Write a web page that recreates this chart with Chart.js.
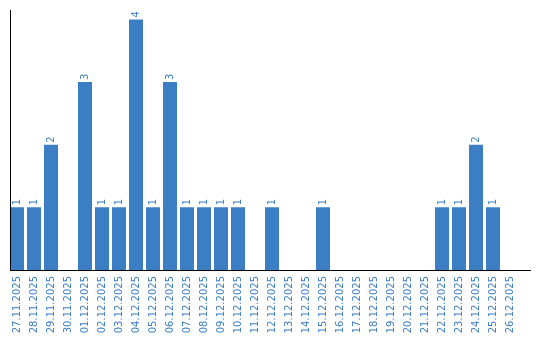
<!DOCTYPE html>
<html>
<head>
<meta charset="utf-8">
<script src="https://cdn.jsdelivr.net/npm/chart.js@4"></script>
<style>
    html, body { margin: 0; padding: 0; background: #fff; }
    #wrap { width: 540px; height: 340px; }
</style>
</head>
<body>
<div id="wrap"><canvas id="dayChart"></canvas></div>
<script>
// Count per day

const dayLabels = [
    '27.11.2025', '28.11.2025', '29.11.2025', '30.11.2025', '01.12.2025',
    '02.12.2025', '03.12.2025', '04.12.2025', '05.12.2025', '06.12.2025',
    '07.12.2025', '08.12.2025', '09.12.2025', '10.12.2025', '11.12.2025',
    '12.12.2025', '13.12.2025', '14.12.2025', '15.12.2025', '16.12.2025',
    '17.12.2025', '18.12.2025', '19.12.2025', '20.12.2025', '21.12.2025',
    '22.12.2025', '23.12.2025', '24.12.2025', '25.12.2025', '26.12.2025'
];
const dayCounts = [
    1, 1, 2, 0, 3,
    1, 1, 4, 1, 3,
    1, 1, 1, 1, 0,
    1, 0, 0, 1, 0,
    0, 0, 0, 0, 0,
    1, 1, 2, 1, 0
];

const barColor = '#3b7ec3';
const labelFont = '10px "DejaVu Sans", Verdana, sans-serif';

// value above each bar, rotated like the ticks
const barValues = {
    id: 'barValues',
    afterDatasetsDraw(chart) {
        const ctx = chart.ctx;
        const meta = chart.getDatasetMeta(0);
        ctx.save();
        ctx.font = labelFont;
        ctx.fillStyle = barColor;
        ctx.textAlign = 'left';
        ctx.textBaseline = 'middle';
        meta.data.forEach((bar, i) => {
            const v = dayCounts[i];
            if (!v) return;
            ctx.save();
            ctx.translate(bar.x, bar.y - 2);
            ctx.rotate(-Math.PI / 2);
            ctx.fillText(String(v), 0, 0);
            ctx.restore();
        });
        ctx.restore();
    }
};

// plain black axis lines
const axisLines = {
    id: 'axisLines',
    afterDraw(chart) {
        const a = chart.chartArea;
        const ctx = chart.ctx;
        ctx.save();
        ctx.strokeStyle = '#000';
        ctx.lineWidth = 1;
        ctx.beginPath();
        ctx.moveTo(10.5, a.top);
        ctx.lineTo(10.5, a.bottom);
        ctx.moveTo(10, a.bottom + 0.5);
        ctx.lineTo(531, a.bottom + 0.5);
        ctx.stroke();
        ctx.restore();
    }
};

new Chart(document.getElementById('dayChart'), {
    type: 'bar',
    data: {
        labels: dayLabels,
        datasets: [{
            data: dayCounts,
            backgroundColor: barColor,
            borderWidth: 0,
            categoryPercentage: 1,
            barPercentage: 14 / 17
        }]
    },
    options: {
        responsive: true,
        maintainAspectRatio: false,
        animation: false,
        layout: {
            padding: { left: 8.5, right: 21.5, top: 10, bottom: 0 }
        },
        plugins: {
            legend: { display: false },
            tooltip: { enabled: false }
        },
        scales: {
            x: {
                grid: { display: false, drawTicks: false },
                border: { display: false },
                ticks: {
                    color: barColor,
                    font: { family: '"DejaVu Sans", Verdana, sans-serif', size: 10 },
                    minRotation: 90,
                    maxRotation: 90,
                    autoSkip: false,
                    padding: 6
                },
                afterFit(scale) {
                    scale.height = 70;
                    scale.paddingLeft = 0;
                    scale.paddingRight = 0;
                }
            },
            y: {
                display: false,
                min: 0,
                max: 4.15
            }
        }
    },
    plugins: [barValues, axisLines]
});
</script>
</body>
</html>
